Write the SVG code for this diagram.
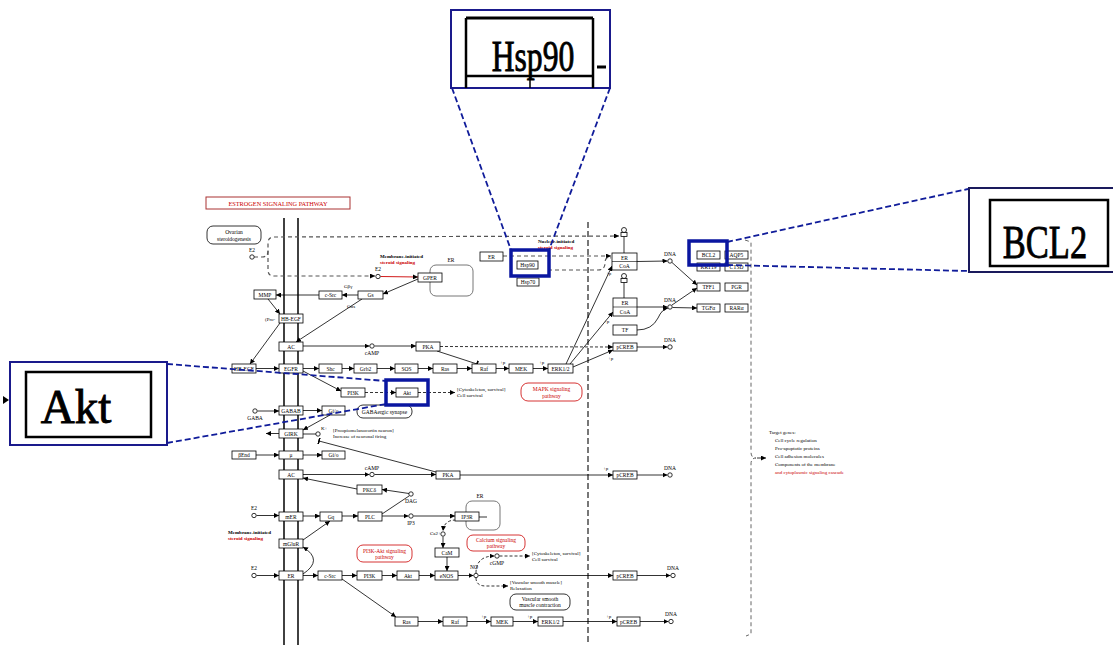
<svg xmlns="http://www.w3.org/2000/svg" width="1113" height="645" viewBox="0 0 1113 645">
<style>
.bx{fill:#fff;stroke:#000;stroke-width:0.8}
.rb{fill:#fff;stroke:#c00;stroke-width:0.8}
.gb{fill:none;stroke:#777;stroke-width:1}
.t{font-family:"Liberation Serif",serif;font-size:5.5px;fill:#000;text-anchor:middle}
.ts{font-family:"Liberation Serif",serif;font-size:5px;fill:#000}
.tr{font-family:"Liberation Serif",serif;font-size:5.5px;fill:#c00;text-anchor:middle}
.bold{font-weight:bold}
.c{fill:none;stroke:#000;stroke-width:0.8;marker-end:url(#ah)}
.cn{fill:none;stroke:#000;stroke-width:0.8}
.d{fill:none;stroke:#000;stroke-width:0.8;stroke-dasharray:3,2;marker-end:url(#ah)}
.dl{fill:none;stroke:#555;stroke-width:1.2;stroke-dasharray:4,3}
.cp{fill:#fff;stroke:#000;stroke-width:0.8}
.hl{fill:none;stroke:#0a16a0;stroke-width:3.5}
.cl{fill:none;stroke:#101c9a;stroke-width:1.8;stroke-dasharray:6,3}
.big{font-family:"Liberation Serif",serif;fill:#000;stroke:#000;stroke-width:0.9;text-anchor:middle}
</style>
<defs>
<marker id="ah" viewBox="0 0 6 6" refX="6" refY="3" markerWidth="5" markerHeight="5" markerUnits="userSpaceOnUse" orient="auto"><path d="M0,0 L6,3 L0,6 z" fill="#000"/></marker>
<marker id="tb" viewBox="0 0 2 8" refX="1" refY="4" markerWidth="2" markerHeight="7" markerUnits="userSpaceOnUse" orient="auto"><rect x="0" y="0" width="2" height="8" fill="#000"/></marker>
</defs>
<rect width="1113" height="645" fill="#fff"/>

<g id="membrane">
<line x1="284" y1="218" x2="284" y2="645" stroke="#111" stroke-width="1.6"/>
<line x1="298" y1="218" x2="298" y2="645" stroke="#111" stroke-width="1.6"/>
<line x1="588" y1="222" x2="588" y2="645" stroke="#777" stroke-width="2" stroke-dasharray="6,3"/>
<path d="M745,240 L751,242 L751,452 Q751,458 756,458 Q751,458 751,464 L751,634 L746,636" fill="none" stroke="#666" stroke-width="1" stroke-dasharray="4,3"/>
</g>

<g id="title"><rect x="206" y="197" width="144" height="12" fill="#fff" stroke="#a33" stroke-width="1"/><text class="tr" x="278" y="205.5" style="font-size:6.3px">ESTROGEN SIGNALING PATHWAY</text></g>

<g id="connectors">
<path class="dl" d="M254,257 L262,257 Q268,257 268,251 L268,243 Q268,237 274,237 L619,236" marker-end="url(#ah)"/>
<path class="dl" d="M268,251 L268,270 Q268,276 274,276 L375,276" marker-end="url(#ah)"/>
<path class="dl" d="M503,256 L611,256" marker-end="url(#ah)"/>
<path class="dl" d="M548,270 L598,270 Q605,270 605,263 Q605,256 611,258"/>
<path class="c" d="M268,299 L280,314"/>
<path class="c" d="M280,323 L250,364"/>
<path class="c" d="M256,368.5 L279,368.5"/>
<path class="c" d="M358,295 L342,295"/>
<path class="c" d="M319,295 L276,295"/>
<path class="c" d="M418,279 L383,294"/>
<path d="M380.5,276.5 L418,277" fill="none" stroke="#c00" stroke-width="0.9" marker-end="url(#ah)"/>
<path class="c" d="M362,299 L296,342"/>
<path class="c" d="M303,346 L369.5,346"/>
<path class="c" d="M374.5,346 L416,346"/>
<path class="d" d="M440,346.5 L613,347"/>
<path class="cn" d="M437,351 L477,364" marker-end="url(#tb)"/>
<path class="c" d="M303,368.5 L319,368.5"/>
<path class="c" d="M342,368.5 L354,368.5"/>
<path class="c" d="M377,368.5 L395,368.5"/>
<path class="c" d="M418,368.5 L433,368.5"/>
<path class="c" d="M457,368.5 L472,368.5"/>
<path class="c" d="M496,368.5 L509,368.5"/>
<path class="c" d="M533,368.5 L548,368.5"/>
<path class="c" d="M566,364 L612,266"/>
<path class="c" d="M570,364 L613,312"/>
<path class="c" d="M573,367 L613,350"/>
<path class="c" d="M637,261.5 L667.5,261"/>
<path class="c" d="M672,262.5 L697,285"/>
<path class="c" d="M637,307 L667.5,307"/>
<path class="c" d="M672,305 L697,288"/>
<path class="c" d="M672.5,307.5 L697,308"/>
<path class="c" d="M637,330 Q652,330 658,318 Q662,309 668,308"/>
<path class="c" d="M637,347 L667.5,347"/>
<path class="c" d="M303,371 L341,391"/>
<path class="d" d="M365,392.5 L396,392.5"/>
<path class="d" d="M418,392.5 L455,392.5"/>
<path class="c" d="M257.5,411 L279,411"/>
<path class="c" d="M303,410.5 L322,410.5"/>
<path class="c" d="M330,415 L303,430"/>
<path class="c" d="M279,433.5 L266,433.5"/>
<path class="cn" d="M303,434 L316,434"/>
<path class="cn" d="M436,472 L319,441" marker-end="url(#tb)"/>
<path class="c" d="M256,455 L279,455"/>
<path class="c" d="M303,455 L322,455"/>
<path class="c" d="M303,474.5 L369.5,474.5"/>
<path class="c" d="M374.5,474.5 L436,474.5"/>
<path class="c" d="M460,475 L613,475"/>
<path class="c" d="M637,475 L667.5,475"/>
<path class="c" d="M357,489 L303,478"/>
<path class="c" d="M409,493.5 L382,489.5"/>
<path class="cn" d="M382,514 L409,496"/>
<path class="c" d="M256.5,515.5 L279,515.5"/>
<path class="c" d="M303,516 L320,516"/>
<path class="c" d="M342,516 L358,516"/>
<path class="c" d="M382,516 L408.5,516"/>
<path class="c" d="M413.5,516 L455,516"/>
<path class="cn" d="M479,517 L487,517"/>
<path class="c" d="M303,540 L330,521"/>
<path class="c" d="M303,574 Q324,560 303,547"/>
<path class="d" d="M456,520 Q444,520 443,531"/>
<path class="c" d="M443,536.5 L443,548"/>
<path class="c" d="M447,557 L447,571"/>
<path class="c" d="M256.5,575.5 L279,575.5"/>
<path class="c" d="M303,575.5 L318,575.5"/>
<path class="c" d="M342,575.5 L357,575.5"/>
<path class="c" d="M382,575.5 L397,575.5"/>
<path class="c" d="M419,575.5 L435,575.5"/>
<path class="c" d="M458,575.5 L473.5,575.5"/>
<path class="c" d="M478.5,575.5 L613,575.5"/>
<path class="c" d="M637,575.5 L670.5,575.5"/>
<path class="d" d="M476,573 Q476,556 494.5,556"/>
<path class="d" d="M499.5,556 L530,556"/>
<path class="d" d="M476,578 Q476,586 486,586 L508,586"/>
<path class="c" d="M342,579 L396,617"/>
<path class="c" d="M418,621.5 L443,621.5"/>
<path class="c" d="M467,621.5 L491,621.5"/>
<path class="c" d="M513,621.5 L538,621.5"/>
<path class="c" d="M563,621.5 L617,621.5"/>
<path class="c" d="M640,621.5 L668.5,621.5"/>
<path class="c" d="M757,458 L766,458"/>
<line x1="624" y1="236" x2="624" y2="253" stroke="#000" stroke-width="0.8"/>
<line x1="624" y1="282" x2="624" y2="298" stroke="#000" stroke-width="0.8"/>
</g>

<g id="plabels" class="ts">
<text x="500" y="364">+p</text><text x="539" y="364">+p</text>
<text x="606" y="275">+p</text><text x="604" y="323">+p</text><text x="608" y="360">+p</text>
<text x="603" y="470">+p</text>
<text x="481" y="618">+p</text><text x="527" y="618">+p</text><text x="606" y="618">+p</text>
</g>

<g id="ovarian"><rect x="207" y="226" width="54" height="18" rx="6" class="bx"/><text class="t" x="234" y="234">Ovarian</text><text class="t" x="234" y="240.5">steroidogenesis</text></g>
<g id="e2a"><circle cx="252" cy="257" r="2.2" class="cp"/><text class="t" x="252" y="252">E2</text></g>
<g id="e2b"><circle cx="378" cy="276.5" r="2.2" class="cp"/><text class="t" x="378" y="271">E2</text></g>
<g id="mis1"><text class="ts bold" x="380" y="258">Membrane-initiated</text><text class="ts bold" x="380" y="264" style="fill:#c00">steroid signaling</text></g>
<g id="mmp"><rect x="254" y="290" width="22" height="9" class="bx"/><text class="t" x="265" y="296.5">MMP</text></g>
<g id="hbegf-pro"><rect x="279" y="314" width="24" height="9" class="bx"/><text class="t" x="291" y="320.5">HB-EGF</text><text class="ts" x="265" y="321">(Pro-</text></g>
<g id="csrc1"><rect x="319" y="291" width="23" height="8" class="bx"/><text class="t" x="330.5" y="297">c-Src</text></g>
<g id="gs"><rect x="358" y="291" width="25" height="8" class="bx"/><text class="t" x="370.5" y="297">Gs</text><text class="ts" x="344" y="288">Gβγ</text><text class="ts" x="347" y="308">Gαs</text></g>
<g id="er-comp1"><rect x="430" y="265" width="43" height="31" rx="6" class="gb"/><text class="t" x="451" y="262">ER</text></g>
<g id="gper"><rect x="418" y="273" width="24" height="9" class="bx"/><text class="t" x="430" y="279.5">GPER</text></g>
<g id="er-top"><rect x="480" y="252" width="23" height="9" class="bx"/><text class="t" x="491.5" y="258.5">ER</text></g>
<g id="nis"><text class="ts bold" x="538" y="243">Nuclear-initiated</text><text class="ts bold" x="538" y="249" style="fill:#c00">steroid signaling</text></g>
<g id="hsp90"><rect x="517" y="261" width="21" height="8" class="bx"/><text class="t" x="527.5" y="267">Hsp90</text></g>
<g id="hsp70"><rect x="517" y="278" width="22" height="8" class="bx"/><text class="t" x="528" y="284">Hsp70</text></g>
<g id="lig1"><circle cx="624" cy="230" r="2.5" class="cp"/><rect x="621" y="232.5" width="6" height="4" class="bx"/></g>
<g id="ercoa1"><rect x="612" y="253" width="25" height="17" class="bx"/><line x1="612" y1="261.5" x2="637" y2="261.5" stroke="#000" stroke-width="0.6"/><text class="t" x="624.5" y="259.5">ER</text><text class="t" x="624.5" y="268">CoA</text></g>
<g id="dna1"><circle cx="670" cy="261" r="2.2" class="cp"/><text class="t" x="670" y="256">DNA</text></g>
<g id="bcl2"><rect x="697" y="251" width="23" height="8" class="bx"/><text class="t" x="708.5" y="257">BCL2</text></g>
<g id="aqp5"><rect x="725" y="251" width="23" height="8" class="bx"/><text class="t" x="736.5" y="257">AQP5</text></g>
<g id="krt19"><rect x="697" y="263" width="23" height="8" class="bx"/><text class="t" x="708.5" y="269">KRT19</text></g>
<g id="ctsd"><rect x="725" y="263" width="23" height="8" class="bx"/><text class="t" x="736.5" y="269">CTSD</text></g>
<g id="tff1"><rect x="697" y="283" width="23" height="8" class="bx"/><text class="t" x="708.5" y="289">TFF1</text></g>
<g id="pgr"><rect x="725" y="283" width="23" height="8" class="bx"/><text class="t" x="736.5" y="289">PGR</text></g>
<g id="tgfa"><rect x="697" y="304" width="23" height="8" class="bx"/><text class="t" x="708.5" y="310">TGFα</text></g>
<g id="rara"><rect x="725" y="304" width="23" height="8" class="bx"/><text class="t" x="736.5" y="310">RARα</text></g>
<g id="lig2"><circle cx="624" cy="276" r="2.5" class="cp"/><rect x="621" y="278.5" width="6" height="4" class="bx"/></g>
<g id="ercoa2"><rect x="613" y="298" width="24" height="18" class="bx"/><line x1="613" y1="307" x2="637" y2="307" stroke="#000" stroke-width="0.6"/><text class="t" x="625" y="305">ER</text><text class="t" x="625" y="314">CoA</text></g>
<g id="dna2"><circle cx="670" cy="307" r="2.2" class="cp"/><text class="t" x="670" y="302">DNA</text></g>
<g id="tf"><rect x="613" y="325" width="24" height="10" class="bx"/><text class="t" x="625" y="332">TF</text></g>
<g id="pcreb1"><rect x="613" y="343" width="24" height="8" class="bx"/><text class="t" x="625" y="349">pCREB</text></g>
<g id="dna3"><circle cx="670" cy="347" r="2.2" class="cp"/><text class="t" x="670" y="342">DNA</text></g>

<g id="ac1"><rect x="279" y="342" width="24" height="9" class="bx"/><text class="t" x="291" y="348.5">AC</text></g>
<g id="camp1"><circle cx="372" cy="346" r="2.2" class="cp"/><text class="t" x="372" y="355">cAMP</text></g>
<g id="pka1"><rect x="416" y="342" width="24" height="9" class="bx"/><text class="t" x="428" y="348.5">PKA</text></g>
<g id="hbegf"><rect x="232" y="364" width="24" height="9" class="bx"/><text class="t" x="244" y="370.5">HB-EGF</text></g>
<g id="egfr"><rect x="279" y="364" width="24" height="9" class="bx"/><text class="t" x="291" y="370.5">EGFR</text></g>
<g id="shc"><rect x="319" y="364" width="23" height="9" class="bx"/><text class="t" x="330.5" y="370.5">Shc</text></g>
<g id="grb2"><rect x="354" y="364" width="23" height="9" class="bx"/><text class="t" x="365.5" y="370.5">Grb2</text></g>
<g id="sos"><rect x="395" y="364" width="23" height="9" class="bx"/><text class="t" x="406.5" y="370.5">SOS</text></g>
<g id="ras1"><rect x="433" y="364" width="24" height="9" class="bx"/><text class="t" x="445" y="370.5">Ras</text></g>
<g id="raf1"><rect x="472" y="364" width="24" height="9" class="bx"/><text class="t" x="484" y="370.5">Raf</text></g>
<g id="mek1"><rect x="509" y="364" width="24" height="9" class="bx"/><text class="t" x="521" y="370.5">MEK</text></g>
<g id="erk1"><rect x="548" y="364" width="25" height="9" class="bx"/><text class="t" x="560.5" y="370.5">ERK1/2</text></g>
<g id="pi3k1"><rect x="341" y="388" width="24" height="9" class="bx"/><text class="t" x="353" y="394.5">PI3K</text></g>
<g id="akt1"><rect x="396" y="388" width="22" height="9" class="bx"/><text class="t" x="407" y="394.5">Akt</text></g>
<g id="cyto1"><text class="ts" x="457" y="391">[Cytoskeleton, survival]</text><text class="ts" x="457" y="397">Cell survival</text></g>
<g id="mapk"><rect x="521" y="383" width="61" height="18" rx="7" class="rb"/><text class="tr" x="551.5" y="391">MAPK signaling</text><text class="tr" x="551.5" y="397.5">pathway</text></g>
<g id="gaba"><circle cx="255" cy="411" r="2.2" class="cp"/><text class="t" x="255" y="420">GABA</text></g>
<g id="gabab"><rect x="279" y="406" width="24" height="9" class="bx"/><text class="t" x="291" y="412.5">GABAB</text></g>
<g id="gio1"><rect x="322" y="406" width="23" height="9" class="bx"/><text class="t" x="333.5" y="412.5">Gi/o</text></g>
<g id="gabasyn"><rect x="357" y="405" width="55" height="13" rx="6" class="bx"/><text class="t" x="384.5" y="413.5">GABAergic synapse</text></g>
<g id="girk"><rect x="279" y="429" width="24" height="9" class="bx"/><text class="t" x="291" y="435.5">GIRK</text></g>
<g id="kplus"><circle cx="318" cy="434" r="2.2" class="cp"/><text class="ts" x="321" y="430">K+</text></g>
<g id="pomc"><text class="ts" x="333" y="432">[Proopiomelanocortin neuron]</text><text class="ts" x="333" y="438">Increase of neuronal firing</text></g>
<g id="bend"><rect x="232" y="451" width="24" height="8" class="bx"/><text class="t" x="244" y="457">βEnd</text></g>
<g id="mu"><rect x="279" y="451" width="24" height="8" class="bx"/><text class="t" x="291" y="457">μ</text></g>
<g id="gio2"><rect x="322" y="451" width="23" height="8" class="bx"/><text class="t" x="333.5" y="457">Gi/o</text></g>
<g id="ac2"><rect x="279" y="470" width="24" height="9" class="bx"/><text class="t" x="291" y="476.5">AC</text></g>
<g id="camp2"><circle cx="372" cy="474.5" r="2.2" class="cp"/><text class="t" x="372" y="469.5">cAMP</text></g>
<g id="pka2"><rect x="436" y="471" width="24" height="8" class="bx"/><text class="t" x="448" y="477">PKA</text></g>
<g id="pcreb2"><rect x="613" y="471" width="24" height="8" class="bx"/><text class="t" x="625" y="477">pCREB</text></g>
<g id="dna4"><circle cx="670" cy="475" r="2.2" class="cp"/><text class="t" x="670" y="470">DNA</text></g>
<g id="pkcd"><rect x="357" y="485" width="25" height="9" class="bx"/><text class="t" x="369.5" y="491.5">PKCδ</text></g>
<g id="dag"><circle cx="411" cy="494" r="2.2" class="cp"/><text class="t" x="411" y="503">DAG</text></g>
<g id="e2c"><circle cx="254" cy="515.5" r="2.2" class="cp"/><text class="t" x="254" y="510">E2</text></g>
<g id="mer"><rect x="279" y="512" width="24" height="9" class="bx"/><text class="t" x="291" y="518.5">mER</text></g>
<g id="gq"><rect x="320" y="512" width="22" height="9" class="bx"/><text class="t" x="331" y="518.5">Gq</text></g>
<g id="plc"><rect x="358" y="512" width="24" height="9" class="bx"/><text class="t" x="370" y="518.5">PLC</text></g>
<g id="ip3"><circle cx="411" cy="516" r="2.2" class="cp"/><text class="t" x="411" y="525">IP3</text></g>
<g id="er-comp2"><rect x="466" y="501" width="34" height="29" rx="6" class="gb"/><text class="t" x="480" y="498">ER</text></g>
<g id="ip3r"><rect x="455" y="512" width="24" height="9" class="bx"/><text class="t" x="467" y="518.5">IP3R</text></g>
<g id="ca"><circle cx="443" cy="534" r="2.2" class="cp"/><text class="ts" x="430" y="535">Ca2+</text></g>
<g id="cam"><rect x="435" y="548" width="24" height="9" class="bx"/><text class="t" x="447" y="554.5">CaM</text></g>
<g id="calcium"><rect x="467" y="535" width="58" height="16" rx="6" class="rb"/><text class="tr" x="496" y="542">Calcium signaling</text><text class="tr" x="496" y="548">pathway</text></g>
<g id="mis2"><text class="ts bold" x="228" y="534">Membrane-initiated</text><text class="ts bold" x="228" y="540" style="fill:#c00">steroid signaling</text></g>
<g id="mglur"><rect x="279" y="539" width="24" height="9" class="bx"/><text class="t" x="291" y="545.5">mGluR</text></g>
<g id="pi3kakt"><rect x="357" y="545" width="55" height="17" rx="6" class="rb"/><text class="tr" x="384.5" y="552.5">PI3K-Akt signaling</text><text class="tr" x="384.5" y="558.5">pathway</text></g>
<g id="e2d"><circle cx="254" cy="575.5" r="2.2" class="cp"/><text class="t" x="254" y="570">E2</text></g>
<g id="er3"><rect x="279" y="571" width="24" height="9" class="bx"/><text class="t" x="291" y="577.5">ER</text></g>
<g id="csrc2"><rect x="318" y="571" width="24" height="9" class="bx"/><text class="t" x="330" y="577.5">c-Src</text></g>
<g id="pi3k2"><rect x="357" y="571" width="25" height="9" class="bx"/><text class="t" x="369.5" y="577.5">PI3K</text></g>
<g id="akt2"><rect x="397" y="571" width="22" height="9" class="bx"/><text class="t" x="408" y="577.5">Akt</text></g>
<g id="enos"><rect x="435" y="571" width="23" height="9" class="bx"/><text class="t" x="446.5" y="577.5">eNOS</text></g>
<g id="no"><circle cx="476" cy="575.5" r="2.2" class="cp"/><text class="t" x="474" y="569">NO</text></g>
<g id="cgmp"><circle cx="497" cy="556" r="2.2" class="cp"/><text class="t" x="497" y="564.5">cGMP</text></g>
<g id="cyto2"><text class="ts" x="532" y="555">[Cytoskeleton, survival]</text><text class="ts" x="532" y="561">Cell survival</text></g>
<g id="relax"><text class="ts" x="510" y="584">[Vascular smooth muscle]</text><text class="ts" x="510" y="590">Relaxation</text></g>
<g id="vsmc"><rect x="510" y="594" width="60" height="16" rx="6" class="bx"/><text class="t" x="540" y="601">Vascular smooth</text><text class="t" x="540" y="607">muscle contraction</text></g>
<g id="pcreb3"><rect x="613" y="571" width="24" height="9" class="bx"/><text class="t" x="625" y="577.5">pCREB</text></g>
<g id="dna5"><circle cx="673" cy="575.5" r="2.2" class="cp"/><text class="t" x="673" y="570">DNA</text></g>
<g id="ras2"><rect x="395" y="617" width="23" height="9" class="bx"/><text class="t" x="406.5" y="623.5">Ras</text></g>
<g id="raf2"><rect x="443" y="617" width="24" height="9" class="bx"/><text class="t" x="455" y="623.5">Raf</text></g>
<g id="mek2"><rect x="491" y="617" width="22" height="9" class="bx"/><text class="t" x="502" y="623.5">MEK</text></g>
<g id="erk2"><rect x="538" y="617" width="25" height="9" class="bx"/><text class="t" x="550.5" y="623.5">ERK1/2</text></g>
<g id="pcreb4"><rect x="617" y="617" width="23" height="9" class="bx"/><text class="t" x="628.5" y="623.5">pCREB</text></g>
<g id="dna6"><circle cx="671" cy="621.5" r="2.2" class="cp"/><text class="t" x="671" y="616">DNA</text></g>
<g id="targets">
<text class="ts" x="769" y="434">Target genes:</text>
<text class="ts" x="775" y="442">Cell cycle regulation</text>
<text class="ts" x="775" y="450">Pro-apoptotic proteins</text>
<text class="ts" x="775" y="458">Cell adhesion molecules</text>
<text class="ts" x="775" y="466">Components of the membrane</text>
<text class="ts" x="775" y="474" style="fill:#c00">and cytoplasmic signaling cascade</text>
</g>

<g id="callout-lines">
<line class="cl" x1="452" y1="88" x2="511" y2="250"/>
<line class="cl" x1="610" y1="88" x2="549" y2="250"/>
<line class="cl" x1="727" y1="242" x2="968" y2="189"/>
<line class="cl" x1="727" y1="265" x2="968" y2="271"/>
<line class="cl" x1="167" y1="364" x2="386" y2="381"/>
<line class="cl" x1="167" y1="443" x2="386" y2="404"/>
</g>
<g id="highlights">
<rect class="hl" x="511" y="250" width="38" height="26"/>
<rect class="hl" x="689" y="241" width="38" height="24"/>
<rect class="hl" x="386" y="380" width="42" height="25"/>
</g>
<g id="callout-hsp90">
<rect x="451" y="10" width="159" height="78" fill="#fff" stroke="#1a1a8c" stroke-width="2"/>
<line x1="466" y1="18" x2="593" y2="18" stroke="#000" stroke-width="3"/>
<line x1="466" y1="18" x2="466" y2="88" stroke="#000" stroke-width="2.5"/>
<line x1="593" y1="18" x2="593" y2="88" stroke="#000" stroke-width="2.5"/>
<line x1="466" y1="76" x2="593" y2="76" stroke="#000" stroke-width="2.5"/>
<line x1="530" y1="76" x2="530" y2="88" stroke="#000" stroke-width="1.5"/>
<line x1="597" y1="67" x2="606" y2="67" stroke="#000" stroke-width="3"/>
<text class="big" transform="translate(533,71) scale(0.72,1)" style="font-size:44px">Hsp90</text>
</g>
<g id="callout-bcl2">
<rect x="969" y="188" width="150" height="84" fill="#fff" stroke="#1a1a5c" stroke-width="2"/>
<rect x="990" y="200" width="118" height="66" fill="#fff" stroke="#000" stroke-width="2.5"/>
<text class="big" transform="translate(1045,258) scale(0.75,1)" style="font-size:46px">BCL2</text>
</g>
<g id="callout-akt">
<rect x="10" y="362" width="157" height="83" fill="#fff" stroke="#1a1a8c" stroke-width="2"/>
<rect x="26" y="372" width="125" height="65" fill="#fff" stroke="#000" stroke-width="2.5"/>
<path d="M3,396 L9,400 L3,404 z" fill="#000"/>
<text class="big" transform="translate(76,423) scale(0.98,1)" style="font-size:48px">Akt</text>
</g>
</svg>
